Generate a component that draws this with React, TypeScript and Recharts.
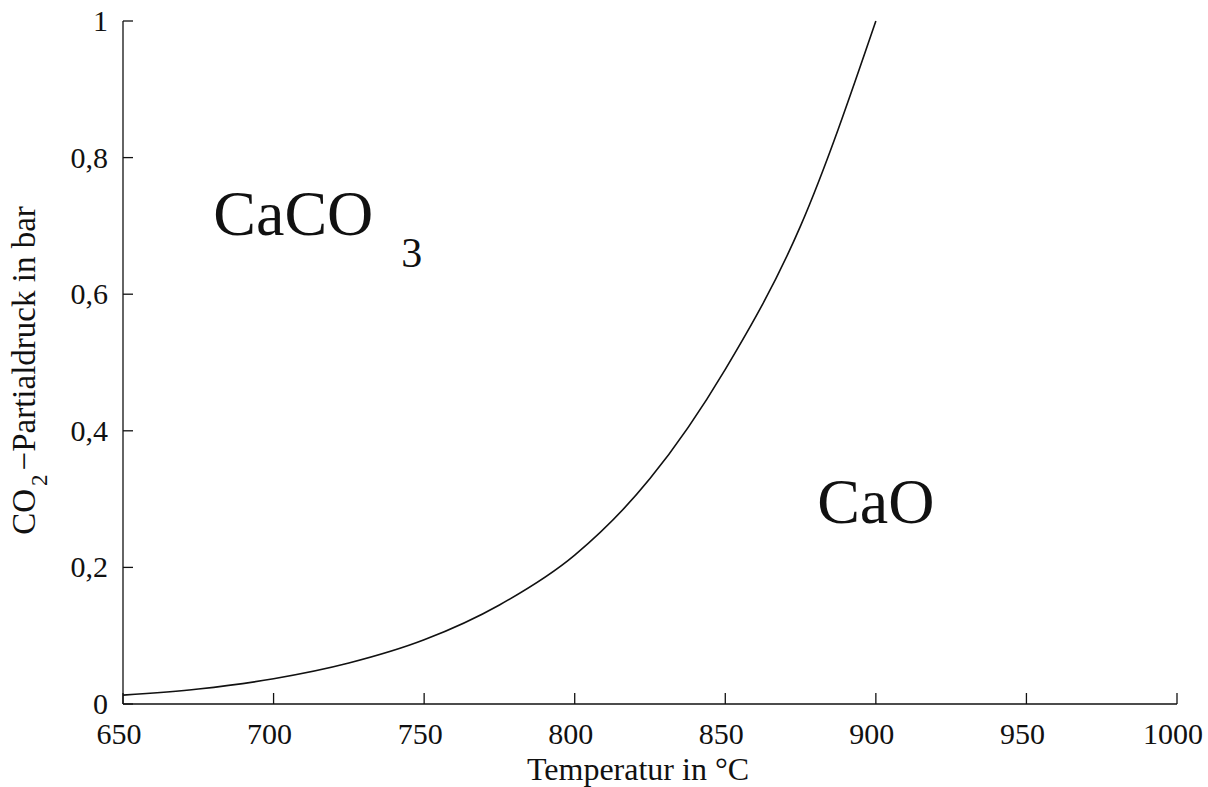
import { LineChart, Line, XAxis, YAxis, ReferenceDot } from "recharts";

// equilibrium CO2 partial pressure over CaCO3 / CaO
const temps = [650, 675, 700, 725, 750, 775, 800, 825, 850, 875, 900];
const pressure = [0.013, 0.022, 0.037, 0.06, 0.094, 0.145, 0.218, 0.33, 0.49, 0.7, 1.0];

const xTicks = [650, 700, 750, 800, 850, 900, 950, 1000];
const yTicks = [0, 0.2, 0.4, 0.6, 0.8, 1];

const curve = temps.map((t, i) => ({ t, p: pressure[i] }));

const FONT = "'Liberation Serif', 'DejaVu Serif', serif";
const INK = "#111";

const fmt = (v: number) => String(v).replace(".", ",");

// ticks point inward, labels sit outside
const YTick = ({ x, y, payload }: any) => (
  <g>
    <line x1={x} y1={y} x2={x + 10} y2={y} stroke={INK} strokeWidth={1.3} />
    <text x={x - 15} y={y + 10} textAnchor="end" fontSize={30} fontFamily={FONT} fill={INK}>
      {fmt(payload.value)}
    </text>
  </g>
);

const XTick = ({ x, y, payload }: any) => (
  <g>
    <line x1={x} y1={y} x2={x} y2={y - 11} stroke={INK} strokeWidth={1.3} />
    <text x={x - 4} y={y + 40} textAnchor="middle" fontSize={30} fontFamily={FONT} fill={INK}>
      {payload.value}
    </text>
  </g>
);

const XTitle = ({ viewBox }: any) => (
  <text
    x={viewBox.x + viewBox.width / 2 - 12}
    y={viewBox.y + 76}
    textAnchor="middle"
    fontSize={32}
    fontFamily={FONT}
    fill={INK}
  >
    Temperatur in °C
  </text>
);

const YTitle = ({ viewBox }: any) => {
  const cx = 35;
  const cy = viewBox.y + viewBox.height / 2 + 8;
  return (
    <text
      x={cx}
      y={cy}
      transform={`rotate(-90 ${cx} ${cy})`}
      textAnchor="middle"
      fontSize={33}
      fontFamily={FONT}
      fill={INK}
    >
      CO
      <tspan fontSize={23} dx={3} dy={12}>
        2
      </tspan>
      <tspan dx={4} dy={-12}>
        −Partialdruck in bar
      </tspan>
    </text>
  );
};

const regionLabel = (name: string, sub: string) => ({ viewBox }: any) => (
  <text x={viewBox.x} y={viewBox.y} fontSize={64} fontFamily={FONT} fill={INK}>
    {name}
    {sub && (
      <tspan fontSize={42} dx={28} dy={32}>
        {sub}
      </tspan>
    )}
  </text>
);

export default function App() {
  return (
    <div style={{ position: "absolute", left: 0, top: 0, background: "#fff" }}>
      <LineChart
        width={1208}
        height={787}
        data={curve}
        margin={{ top: 21, right: 31, bottom: 0, left: 0 }}
      >
        <XAxis
          dataKey="t"
          type="number"
          domain={[650, 1000]}
          ticks={xTicks}
          height={83}
          tickSize={0}
          tickMargin={0}
          tickLine={false}
          axisLine={{ stroke: INK, strokeWidth: 1.3 }}
          tick={<XTick />}
          label={{ content: <XTitle /> }}
        />
        <YAxis
          type="number"
          domain={[0, 1]}
          ticks={yTicks}
          width={123}
          tickSize={0}
          tickMargin={0}
          tickLine={false}
          axisLine={{ stroke: INK, strokeWidth: 1.3 }}
          tick={<YTick />}
          label={{ content: <YTitle /> }}
        />
        <ReferenceDot x={680} y={0.687} r={0} stroke="none" label={{ content: regionLabel("CaCO", "3") }} />
        <ReferenceDot x={880.5} y={0.265} r={0} stroke="none" label={{ content: regionLabel("CaO", "") }} />
        <Line
          type="monotone"
          dataKey="p"
          stroke={INK}
          strokeWidth={1.6}
          dot={false}
          isAnimationActive={false}
        />
      </LineChart>
    </div>
  );
}
